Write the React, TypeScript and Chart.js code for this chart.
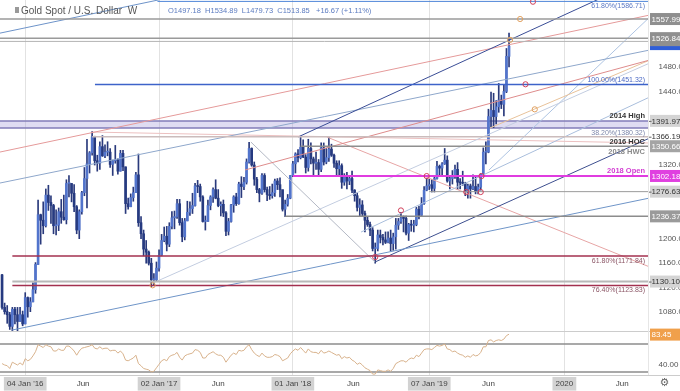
import React, { useEffect, useRef } from "react";
import { Chart, registerables } from "chart.js";

Chart.register(...registerables);

// ---------------- data ----------------
// week index 0 = week of 04 Jan 2016; first bar = week of 02 Nov 2015
const FIRST_WEEK = -9;

// weekly [open, high, low, close]
const ohlc2015: number[][] = [
  [1141, 1142, 1085, 1088], [1088, 1095, 1077, 1081], [1081, 1091, 1062, 1076], [1076, 1080, 1052, 1057],
  [1057, 1088, 1046, 1085], [1085, 1088, 1061, 1076], [1076, 1088, 1050, 1065], [1065, 1088, 1065, 1076],
  [1076, 1082, 1058, 1061],
];
const ohlc2016: number[][] = [
  [1061, 1112, 1061, 1104], [1104, 1105, 1072, 1089], [1089, 1104, 1081, 1097], [1097, 1128, 1097, 1117],
  [1117, 1161, 1111, 1158], [1158, 1263, 1158, 1239], [1239, 1240, 1191, 1230], [1230, 1260, 1208, 1221],
  [1221, 1281, 1219, 1271], [1271, 1287, 1246, 1259], [1259, 1270, 1225, 1254], [1254, 1256, 1208, 1221],
  [1221, 1247, 1206, 1222], [1222, 1250, 1213, 1244], [1244, 1264, 1225, 1235], [1235, 1271, 1230, 1231],
  [1231, 1296, 1224, 1290], [1290, 1303, 1268, 1290], [1290, 1290, 1260, 1274], [1274, 1288, 1244, 1252],
  [1252, 1254, 1208, 1214], [1214, 1247, 1200, 1244], [1244, 1277, 1240, 1275], [1275, 1316, 1270, 1298],
  [1298, 1362, 1250, 1322], [1322, 1342, 1307, 1340], [1340, 1375, 1336, 1366], [1366, 1367, 1320, 1327],
  [1327, 1336, 1310, 1323], [1323, 1358, 1313, 1350], [1350, 1368, 1334, 1335], [1335, 1353, 1332, 1341],
  [1341, 1358, 1335, 1341], [1341, 1347, 1316, 1321], [1321, 1328, 1303, 1327], [1327, 1352, 1323, 1328],
  [1328, 1330, 1305, 1310], [1310, 1344, 1310, 1339], [1339, 1344, 1311, 1317], [1317, 1317, 1241, 1257],
  [1257, 1266, 1248, 1252], [1252, 1273, 1252, 1267], [1267, 1284, 1261, 1275], [1275, 1308, 1275, 1304],
  [1304, 1338, 1220, 1226], [1226, 1236, 1200, 1208], [1208, 1214, 1172, 1183], [1183, 1197, 1160, 1178],
  [1178, 1180, 1157, 1160], [1160, 1168, 1122, 1133], [1133, 1143, 1125, 1133], [1133, 1162, 1130, 1152],
];
const ohlc2017: number[][] = [
  [1152, 1182, 1147, 1173], [1173, 1207, 1172, 1197], [1197, 1219, 1195, 1204], [1204, 1220, 1180, 1191],
  [1191, 1226, 1187, 1220], [1220, 1244, 1216, 1234], [1234, 1245, 1216, 1236], [1236, 1264, 1233, 1257],
  [1257, 1264, 1222, 1226], [1226, 1233, 1195, 1203], [1203, 1233, 1198, 1229], [1229, 1261, 1229, 1243],
  [1243, 1260, 1238, 1249], [1249, 1274, 1241, 1254], [1254, 1290, 1253, 1286], [1286, 1295, 1275, 1285],
  [1285, 1289, 1261, 1268], [1268, 1270, 1227, 1228], [1228, 1237, 1214, 1228], [1228, 1263, 1228, 1254],
  [1254, 1270, 1247, 1268], [1268, 1283, 1259, 1280], [1280, 1296, 1265, 1266], [1266, 1280, 1252, 1254],
  [1254, 1260, 1237, 1256], [1256, 1263, 1236, 1242], [1242, 1244, 1205, 1212], [1212, 1233, 1206, 1228],
  [1228, 1256, 1227, 1255], [1255, 1270, 1243, 1268], [1268, 1274, 1254, 1257], [1257, 1292, 1256, 1289],
  [1289, 1301, 1267, 1285], [1285, 1300, 1280, 1292], [1292, 1330, 1289, 1325], [1325, 1357, 1323, 1347],
  [1347, 1348, 1318, 1320], [1320, 1325, 1287, 1297], [1297, 1300, 1275, 1280], [1280, 1282, 1260, 1274],
  [1274, 1306, 1272, 1303], [1303, 1306, 1276, 1280], [1280, 1284, 1262, 1272], [1272, 1285, 1264, 1270],
  [1270, 1289, 1266, 1275], [1275, 1297, 1269, 1294], [1294, 1298, 1280, 1288], [1288, 1299, 1268, 1280],
  [1280, 1279, 1245, 1248], [1248, 1263, 1236, 1256], [1256, 1272, 1253, 1266], [1266, 1303, 1265, 1303],
];
const ohlc2018: number[][] = [
  [1303, 1326, 1301, 1322], [1322, 1340, 1307, 1338], [1338, 1345, 1325, 1332], [1332, 1366, 1330, 1349],
  [1349, 1361, 1332, 1333], [1333, 1337, 1307, 1316], [1316, 1362, 1310, 1347], [1347, 1356, 1322, 1330],
  [1330, 1333, 1303, 1323], [1323, 1341, 1313, 1324], [1324, 1329, 1303, 1313], [1313, 1356, 1309, 1348],
  [1348, 1356, 1320, 1325], [1325, 1347, 1322, 1332], [1332, 1366, 1326, 1346], [1346, 1354, 1334, 1336],
  [1336, 1338, 1316, 1323], [1323, 1327, 1302, 1314], [1314, 1327, 1304, 1319], [1319, 1322, 1282, 1292],
  [1292, 1306, 1287, 1302], [1302, 1308, 1281, 1294], [1294, 1303, 1288, 1298], [1298, 1310, 1275, 1279],
  [1279, 1280, 1261, 1270], [1270, 1275, 1245, 1251], [1251, 1265, 1237, 1255], [1255, 1262, 1236, 1241],
  [1241, 1245, 1211, 1230], [1230, 1236, 1220, 1223], [1223, 1227, 1205, 1214], [1214, 1218, 1180, 1184],
  [1184, 1193, 1160, 1184], [1184, 1214, 1180, 1206], [1206, 1214, 1193, 1202], [1202, 1207, 1190, 1198],
  [1198, 1211, 1192, 1194], [1194, 1211, 1193, 1201], [1201, 1214, 1180, 1192], [1192, 1209, 1181, 1203],
  [1203, 1233, 1183, 1222], [1222, 1233, 1215, 1228], [1228, 1243, 1225, 1234], [1234, 1237, 1211, 1233],
  [1233, 1237, 1206, 1209], [1209, 1225, 1197, 1223], [1223, 1230, 1212, 1222], [1222, 1230, 1211, 1223],
  [1223, 1251, 1221, 1248], [1248, 1253, 1232, 1238], [1238, 1267, 1236, 1257], [1257, 1285, 1256, 1279],
  [1279, 1298, 1278, 1286],
];
const ohlc2019: number[][] = [
  [1286, 1297, 1280, 1288], [1288, 1296, 1276, 1282], [1282, 1303, 1276, 1298], [1298, 1326, 1297, 1318],
  [1318, 1320, 1303, 1315], [1315, 1324, 1302, 1322], [1322, 1347, 1321, 1328], [1328, 1335, 1292, 1294],
  [1294, 1301, 1281, 1298], [1298, 1311, 1289, 1302], [1302, 1320, 1298, 1313], [1313, 1324, 1280, 1292],
  [1292, 1298, 1281, 1291], [1291, 1310, 1287, 1290], [1290, 1292, 1270, 1276], [1276, 1289, 1266, 1286],
  [1286, 1289, 1266, 1281], [1281, 1304, 1280, 1285], [1285, 1303, 1273, 1277], [1277, 1289, 1273, 1284],
  [1284, 1306, 1279, 1305], [1305, 1348, 1305, 1341], [1341, 1358, 1322, 1341], [1341, 1411, 1340, 1399],
  [1399, 1439, 1382, 1409], [1409, 1437, 1381, 1399], [1399, 1425, 1387, 1415], [1415, 1453, 1406, 1426],
  [1426, 1434, 1412, 1419], [1419, 1450, 1400, 1440], [1440, 1510, 1438, 1497.18], [1497.18, 1534.89, 1479.73, 1513.85],
];

// weekly RSI, same weeks as the candles
const rsi2015 = [42, 40, 39, 35, 44, 42, 40, 43, 40];
const rsi2016 = [
  49, 46, 48, 53, 59, 69, 67, 65, 69, 67, 66, 60, 60, 63, 61, 61, 67, 67, 64, 60,
  54, 60, 64, 65, 66, 67, 69, 64, 63, 66, 63, 64, 64, 60, 61, 61, 57, 60, 56, 47,
  46, 48, 50, 54, 42, 39, 35, 34, 33, 30, 31, 36,
];
const rsi2017 = [
  41, 46, 48, 46, 52, 54, 55, 58, 51, 47, 53, 55, 56, 57, 62, 61, 58, 50, 50, 55,
  57, 59, 56, 54, 54, 51, 44, 49, 54, 57, 55, 61, 60, 61, 66, 69, 62, 57, 54, 52,
  57, 53, 51, 51, 52, 55, 54, 52, 46, 48, 50, 56,
];
const rsi2018 = [
  60, 63, 61, 65, 61, 57, 63, 59, 58, 58, 56, 61, 57, 58, 60, 58, 56, 54, 55, 49,
  52, 50, 51, 47, 45, 41, 43, 40, 36, 34, 32, 27, 27, 33, 32, 31, 31, 33, 31, 35,
  42, 44, 46, 46, 44, 48, 50, 49, 54, 52, 57, 62, 63,
];
const rsi2019 = [
  63, 62, 65, 68, 67, 68, 70, 63, 62, 59, 60, 57, 55, 54, 51, 53, 51, 55, 53, 54,
  58, 66, 66, 75, 76, 73, 75, 76, 75, 77, 82, 84,
];
const rsiLast = 83.45;

// axis ranges (price / RSI / weeks)
const X_MIN = -9.8;
const X_MAX = 242;
const PRICE_MIN = 1049.5;
const PRICE_MAX = 1589;
const RSI_MIN = 25.7;
const RSI_MAX = 88.6;

// x ticks (week index) and labels
const xTickValues = [0, 22.5, 52, 75, 104, 127.5, 157, 180, 209.5, 232];
const xTickLabels = ["04 Jan '16", "Jun", "02 Jan '17", "Jun", "01 Jan '18", "Jun", "07 Jan '19", "Jun", "2020", "Jun"];
const yearTickValues = [0, 52, 104, 157, 209.5];
const priceTicks = [1080, 1120, 1160, 1200, 1320, 1440, 1480];
const rsiTicks = [40];
const rsiBands = [70, 30];

// horizontal levels: value and first week
const levelValues = [1586.71, 1557.99, 1526.84, 1521.5, 1451.32, 1366.19, 1350.66, 1302.18, 1276.63, 1236.37, 1171.84, 1130.1, 1123.83];
const levelStartWeeks = [51.4, -9.8, -9.8, -9.8, 27.1, 26, 107, 104, 157, 101, -5, -5, -5];
const bandLow = 1380.32;
const bandHigh = 1391.97;

// trend lines: [week1, price1, week2, price2]
const trendLines: number[][] = [
  [-9.8, 1535, 100, 1631.5],
  [106, 1365.7, 242.7, 1628.6],
  [-9.8, 1341.2, 242.7, 1564.5],
  [-9.8, 1290.7, 242.7, 1507.5],
  [85.4, 1311.9, 242.7, 1491.2],
  [-5.1, 1051.1, 242.7, 1266.3],
  [135.9, 1161.9, 242.7, 1364.1],
  [49.6, 1127.7, 242.7, 1486.3],
  [130.5, 1210.8, 242.7, 1430.9],
  [180.6, 1380.4, 242.7, 1491.2],
  [180.2, 1311.9, 242.7, 1561.3],
  [117.2, 1365.7, 242.7, 1153.8],
  [87.7, 1357.5, 135.9, 1161.9],
  [25.6, 1373.8, 242.7, 1355.9],
];

// pivot markers
const markerWeeks = [49.5, 136, 146, 156, 171.4, 177, 177.3, 194.4, 188.4, 192.3, 197.3, 198];
const markerValues = [1124, 1170, 1246, 1302, 1276, 1276, 1302, 1451.6, 1524, 1558, 1586.2, 1410.8];

// level text labels
const levelTexts = ["61.80%(1586.71)", "100.00%(1451.32)", "2014 High", "38.20%(1380.32)", "2016 HOC", "2018 HWC", "2018 Open", "61.80%(1171.84)", "76.40%(1123.83)"];
const levelTextValues = [1586.71, 1451.32, 1391.97, 1380.32, 1366.19, 1350.66, 1302.18, 1171.84, 1123.83];

// right-axis value boxes
const axisBoxValues = [1557.99, 1526.84, 1391.97, 1366.19, 1350.66, 1302.18, 1276.63, 1236.37, 1130.1];

const headerTitle = "Gold Spot / U.S. Dollar  W";

// ---------------- styles ----------------
const FONT = '"Liberation Sans", Arial, sans-serif';
const UP_COLOR = "#5274cc";
const DOWN_COLOR = "#263a80";
const WICK_COLOR = "#2a3a7c";
const levelColors = ["#4f86d8", "#9a9a9a", "#9a9a9a", "#b4b4b4", "#3d63c9", "#cbbcbc", "#8f8f8f", "#e03ce0", "#9a9a9a", "#8c8c8c", "#a3304f", "#b8b8b8", "#a3304f"];
const levelWidths = [1, 1.5, 1.5, 1, 1.5, 1.5, 1.5, 2, 1, 1.5, 1.5, 2, 1.5];
const trendColors = ["#6d93c9", "#3a4d96", "#e59a9a", "#8ea7cb", "#de8c8c", "#6f95c8", "#3d4f8f", "#c3cde0", "#a9bedc", "#e8c29a", "#aec4e2", "#e7a5a5", "#b3b8c4", "#ecc0c0"];
const markerColors = ["#e0a060", "#d0405a", "#d0405a", "#d0405a", "#d0405a", "#d0405a", "#d0405a", "#d0405a", "#e0a060", "#e0a060", "#d0405a", "#e0a060"];
const levelTextStyles = [
  { color: "#5a78c4", bold: false, size: 7, below: true },
  { color: "#4a68c4", bold: false, size: 7, below: false },
  { color: "#333333", bold: true, size: 7.5, below: false },
  { color: "#7c86aa", bold: false, size: 7, below: true },
  { color: "#333333", bold: true, size: 7.5, below: true },
  { color: "#8a8a8a", bold: true, size: 7.5, below: true },
  { color: "#d23cd2", bold: true, size: 7.5, below: false },
  { color: "#8a5464", bold: false, size: 7, below: true },
  { color: "#8a5464", bold: false, size: 7, below: true },
];
const axisBoxStyles = [
  { bg: "#8f8f8f", fg: "#ffffff", dash: false, h: 12, dy: 0 },
  { bg: "#8f8f8f", fg: "#ffffff", dash: false, h: 14, dy: 1 },
  { bg: "#d4d4d4", fg: "#333333", dash: true, h: 12, dy: 0 },
  { bg: "#ffffff", fg: "#333333", dash: true, h: 12, dy: 0 },
  { bg: "#a4a4a4", fg: "#ffffff", dash: false, h: 12, dy: 0 },
  { bg: "#e040e0", fg: "#ffffff", dash: false, h: 12, dy: 0 },
  { bg: "#d4d4d4", fg: "#333333", dash: true, h: 12, dy: 0 },
  { bg: "#9a9a9a", fg: "#ffffff", dash: false, h: 12, dy: 0 },
  { bg: "#d4d4d4", fg: "#333333", dash: true, h: 12, dy: 0 },
];

// ---------------- build datasets ----------------
const allOhlc = [...ohlc2015, ...ohlc2016, ...ohlc2017, ...ohlc2018, ...ohlc2019];
const allRsi = [...rsi2015, ...rsi2016, ...rsi2017, ...rsi2018, ...rsi2019];
const lastBar = allOhlc[allOhlc.length - 1];
const prevClose = allOhlc[allOhlc.length - 2][3];

function buildDatasets(): any[] {
  const ds: any[] = [];
  // band
  ds.push({
    type: "line", data: [{ x: X_MIN, y: bandLow }, { x: 242.7, y: bandLow }],
    borderColor: "#827db8", borderWidth: 1.5, pointRadius: 0, order: 8,
  });
  ds.push({
    type: "line", data: [{ x: X_MIN, y: bandHigh }, { x: 242.7, y: bandHigh }],
    borderColor: "#827db8", borderWidth: 1.5, pointRadius: 0, order: 8,
    fill: { target: { value: bandLow } }, backgroundColor: "rgba(170,162,220,0.38)",
  });
  // candles
  ds.push({
    type: "bar", grouped: false, barThickness: 1, order: 6,
    data: allOhlc.map((c, k) => ({ x: FIRST_WEEK + k, y: [c[2], c[1]] })),
    backgroundColor: WICK_COLOR, borderWidth: 0,
  });
  ds.push({
    type: "bar", grouped: false, barThickness: 2, minBarLength: 1, order: 5,
    data: allOhlc.map((c, k) => ({ x: FIRST_WEEK + k, y: [c[0], c[3]] })),
    backgroundColor: (ctx: any) => {
      const c = allOhlc[ctx.dataIndex];
      return c && c[3] >= c[0] ? UP_COLOR : DOWN_COLOR;
    },
    borderWidth: 0,
  });
  // horizontal levels
  levelValues.forEach((v, k) => {
    ds.push({
      type: "line", data: [{ x: levelStartWeeks[k], y: v }, { x: 242.7, y: v }],
      borderColor: levelColors[k], borderWidth: levelWidths[k], pointRadius: 0, order: 2,
    });
  });
  // trend lines
  trendLines.forEach((t, k) => {
    ds.push({
      type: "line", data: [{ x: t[0], y: t[1] }, { x: t[2], y: t[3] }],
      borderColor: trendColors[k], borderWidth: 1, pointRadius: 0, order: 3,
    });
  });
  // markers
  ds.push({
    type: "line", showLine: false, order: 1,
    data: markerWeeks.map((w, k) => ({ x: w, y: markerValues[k] })),
    pointRadius: 2.6, pointHoverRadius: 2.6, pointBorderWidth: 1, pointBackgroundColor: "rgba(255,255,255,0)",
    pointBorderColor: markerColors,
  });
  // RSI
  rsiBands.forEach((b) => {
    ds.push({
      type: "line", yAxisID: "rsi", data: [{ x: X_MIN, y: b }, { x: 242.7, y: b }],
      borderColor: "#8c8c8c", borderWidth: 1.5, pointRadius: 0, order: 2,
    });
  });
  ds.push({
    type: "line", yAxisID: "rsi",
    data: allRsi.map((r, k) => ({ x: FIRST_WEEK + k, y: r })),
    borderColor: "#d8b28c", borderWidth: 1, pointRadius: 0, order: 1,
  });
  return ds;
}

const overlayPlugin = {
  id: "overlay",
  afterDatasetsDraw(chart: any) {
    const { ctx, scales } = chart;
    const xs = scales.x;
    const ys = scales.y;
    ctx.save();
    ctx.textAlign = "right";
    levelTexts.forEach((t, k) => {
      const st = levelTextStyles[k];
      ctx.font = `${st.bold ? "bold " : ""}${st.size}px ${FONT}`;
      ctx.fillStyle = st.color;
      const py = ys.getPixelForValue(levelTextValues[k]);
      ctx.textBaseline = st.below ? "top" : "bottom";
      ctx.fillText(t, xs.right - 3, st.below ? py + 1.5 : py - 1);
    });
    ctx.restore();
  },
  afterDraw(chart: any) {
    const { ctx, scales, chartArea } = chart;
    const ys = scales.y;
    const rs = scales.rsi;
    const xs = scales.x;
    ctx.save();
    ctx.strokeStyle = "#cccccc";
    ctx.lineWidth = 1;
    ctx.beginPath();
    ctx.moveTo(0, Math.round(ys.bottom) + 0.5);
    ctx.lineTo(chart.width, Math.round(ys.bottom) + 0.5);
    ctx.moveTo(0, Math.round(xs.top) + 0.5);
    ctx.lineTo(chart.width, Math.round(xs.top) + 0.5);
    ctx.stroke();
    ctx.strokeStyle = "#e6e6e6";
    ctx.beginPath();
    ctx.moveTo(Math.round(chartArea.right) + 0.5, 0);
    ctx.lineTo(Math.round(chartArea.right) + 0.5, xs.top);
    ctx.stroke();

    const left = chartArea.right + 1;
    const w = chart.width - left;
    const drawBox = (text: string, py: number, bg: string, fg: string, dash: boolean, h: number, dy: number) => {
      ctx.fillStyle = bg;
      ctx.fillRect(left + 1, py + dy - h / 2, w - 1, h);
      if (dash) {
        ctx.strokeStyle = "#666";
        ctx.beginPath();
        ctx.moveTo(left, py + 0.5);
        ctx.lineTo(left + 2.5, py + 0.5);
        ctx.stroke();
      }
      if (!text) return;
      ctx.fillStyle = fg;
      ctx.font = `8px ${FONT}`;
      ctx.textAlign = "left";
      ctx.textBaseline = "middle";
      ctx.fillText(text, left + 2.5, py + 0.5);
    };
    // current price marker strip, mostly hidden under the 1526.84 box
    drawBox("", ys.getPixelForValue(lastBar[3]), "#2f5ed8", "#ffffff", false, 8, 0);
    axisBoxValues.forEach((v, k) => {
      const st = axisBoxStyles[k];
      drawBox(v.toFixed(2), ys.getPixelForValue(v), st.bg, st.fg, st.dash, st.h, st.dy);
    });
    drawBox(rsiLast.toFixed(2), rs.getPixelForValue(rsiLast), "#f0a04b", "#ffffff", false, 12, 0);

    // header
    ctx.fillStyle = "#9a9a9a";
    ctx.fillRect(15, 7, 4, 6);
    ctx.fillStyle = "#555";
    ctx.font = `10px ${FONT}`;
    ctx.textAlign = "left";
    ctx.textBaseline = "alphabetic";
    ctx.fillText(headerTitle, 21, 13.5);
    const chg = lastBar[3] - prevClose;
    const pct = (chg / prevClose) * 100;
    const hdr = `O${lastBar[0].toFixed(2)}  H${lastBar[1].toFixed(2)}  L${lastBar[2].toFixed(2)}  C${lastBar[3].toFixed(2)}   +${chg.toFixed(2)} (+${pct.toFixed(2)}%)`;
    ctx.fillStyle = "#5b7bc0";
    ctx.font = `7.5px ${FONT}`;
    ctx.fillText(hdr, 168, 12.5);

    // settings glyph
    ctx.fillStyle = "#666";
    ctx.font = '11px "DejaVu Sans"';
    ctx.textAlign = "center";
    ctx.textBaseline = "middle";
    ctx.fillText("\u2699", (left + chart.width) / 2, (xs.top + xs.bottom) / 2 + 0.5);
    ctx.restore();
  },
};

export default function App() {
  const ref = useRef<HTMLCanvasElement>(null);
  useEffect(() => {
    if (!ref.current) return;
    const chart = new Chart(ref.current, {
      type: "line",
      data: { datasets: buildDatasets() },
      options: {
        responsive: false,
        animation: false,
        devicePixelRatio: 1,
        events: [],
        layout: { padding: 0, autoPadding: false },
        plugins: { legend: { display: false }, tooltip: { enabled: false } },
        scales: {
          x: {
            type: "linear", position: "bottom", min: X_MIN, max: X_MAX, offset: false, bounds: "data",
            afterBuildTicks: (s: any) => { s.ticks = xTickValues.map((v) => ({ value: v })); },
            afterFit: (s: any) => { s.height = 16; s.paddingLeft = 0; s.paddingRight = 0; },
            grid: {
              offset: false, drawTicks: false, lineWidth: 1,
              color: (c: any) => (c.tick && yearTickValues.includes(c.tick.value) ? "#e2e2e2" : "rgba(0,0,0,0)"),
            },
            border: { display: false },
            ticks: {
              autoSkip: false, maxRotation: 0, minRotation: 0, padding: 4, color: "#444",
              font: { size: 8, family: FONT },
              callback: (v: any) => { const k = xTickValues.indexOf(Number(v)); return k >= 0 ? xTickLabels[k] : ""; },
              showLabelBackdrop: true,
              backdropColor: (c: any) => (c.tick && yearTickValues.includes(c.tick.value) ? "#d2d2d2" : "rgba(0,0,0,0)"),
              backdropPadding: { x: 3, y: 2 },
            },
          },
          y: {
            type: "linear", position: "right", stack: "panes", stackWeight: 331, min: PRICE_MIN, max: PRICE_MAX,
            bounds: "data", beginAtZero: false, offset: false,
            afterBuildTicks: (s: any) => { s.ticks = priceTicks.map((v) => ({ value: v })); },
            afterFit: (s: any) => { s.width = 32; s.paddingTop = 0; s.paddingBottom = 0; },
            grid: { display: false },
            border: { display: false },
            ticks: { padding: 2.5, color: "#555", font: { size: 8, family: FONT }, callback: (v: any) => Number(v).toFixed(2) },
          },
          rsi: {
            type: "linear", position: "right", stack: "panes", stackWeight: 44, min: RSI_MIN, max: RSI_MAX,
            bounds: "data", beginAtZero: false, offset: false,
            afterBuildTicks: (s: any) => { s.ticks = rsiTicks.map((v) => ({ value: v })); },
            afterFit: (s: any) => { s.width = 32; s.paddingTop = 0; s.paddingBottom = 0; },
            grid: { display: false },
            border: { display: false },
            ticks: { padding: 2.5, color: "#555", font: { size: 8, family: FONT }, callback: (v: any) => Number(v).toFixed(2) },
          },
        },
      } as any,
      plugins: [overlayPlugin],
    });
    return () => chart.destroy();
  }, []);
  return (
    <div style={{ position: "fixed", left: 0, top: 0, width: 680, height: 391, background: "#ffffff" }}>
      <canvas ref={ref} width={680} height={391} style={{ display: "block", width: 680, height: 391 }} />
    </div>
  );
}
